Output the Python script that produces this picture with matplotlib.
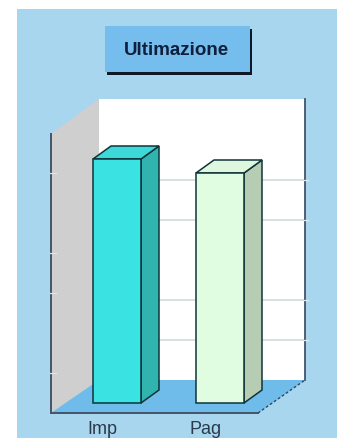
import matplotlib
matplotlib.use("Agg")
import matplotlib.pyplot as plt
from matplotlib.patches import Polygon, Rectangle

# Datos
categories = ["Imp", "Pag"]
values = [6.1, 5.75]
grid_levels = [1, 2, 4, 5]
left_ticks = [1, 3, 4, 6]
right_ticks = [1, 2, 4, 5]

W, H = 337, 439
BG = "#a8d6ef"
BTN = "#74bdec"
FLOOR = "#6fbbea"
SIDE_WALL = "#cfcfcf"
AXIS = "#44546a"
GRID = "#cdd9d6"
FRONTS = ["#3ae2e2", "#e1fde1"]
SIDES = ["#31b3b0", "#b6cdb4"]
TOPS = ["#3cd9d8", "#dff7df"]

# Escala del grafico, en pixeles
PX_X, PX_Y = 103.0, 40.0
X0, Y0 = 117.0, 403.0
BACK_Y = 23 / PX_Y
FRONT_Y = -10 / PX_Y
DX, DY = 18 / PX_X, 13 / PX_Y
WIDTH = 48 / PX_X
NUDGE = 1  # ajuste vertical frente a la referencia

plt.rcParams["font.family"] = ["Liberation Sans", "DejaVu Sans"]
fig = plt.figure(figsize=(W / 100, H / 100), dpi=100, facecolor="white")

# Capa de fondo en coordenadas de pixel
bg = fig.add_axes([0, 0, 1, 1])
bg.set_xlim(0, W)
bg.set_ylim(H, 0)
bg.axis("off")
bg.add_patch(Rectangle((17, 10), W - 17, H - 10, fc=BG, ec="none"))
bg.add_patch(Rectangle((107, 30), 145, 46, fc="#101828", ec="none"))
bg.add_patch(Rectangle((105, 27), 145, 46, fc=BTN, ec="none"))
bg.text(176.5, 50.5, "Ultimazione", ha="center", va="center", fontsize=13.5,
        fontweight="bold", color="#0f1f3d")

# Ejes del grafico: unidades de valor en y, indice de categoria en x
left, right, top, bottom = 45, 312, 90, 437
ax = fig.add_axes([left / W, 1 - (bottom + NUDGE) / H, (right - left) / W, (bottom - top) / H])
ax.set_xlim((left - X0) / PX_X, (right - X0) / PX_X)
ax.set_ylim((Y0 - bottom) / PX_Y, (Y0 - top) / PX_Y)
ax.axis("off")
ax.patch.set_alpha(0)

x_l = (51 - X0) / PX_X
x_r = (258 - X0) / PX_X
bx_l = (99 - X0) / PX_X
bx_r = (305 - X0) / PX_X
wall_top = (Y0 - 99) / PX_Y
side_top = (Y0 - 134) / PX_Y

ax.add_patch(Rectangle((bx_l, BACK_Y), bx_r - bx_l, wall_top - BACK_Y, fc="white", ec="none", zorder=1))
ax.add_patch(Polygon([(x_l, FRONT_Y), (x_l, side_top), (bx_l, wall_top), (bx_l, BACK_Y)],
                     fc=SIDE_WALL, ec="none", zorder=1))
ax.add_patch(Polygon([(x_l, FRONT_Y), (x_r, FRONT_Y), (bx_r, BACK_Y), (bx_l, BACK_Y)],
                     fc=FLOOR, ec="none", zorder=1))

for g in grid_levels:
    ax.plot([bx_l, bx_r], [g + BACK_Y] * 2, color=GRID, lw=1.1, zorder=2)
ax.plot([bx_r, bx_r], [BACK_Y, wall_top], color=AXIS, lw=1.3, zorder=3)
for t in right_ticks:
    ax.plot([bx_r - 0.01, bx_r + 0.03], [t + BACK_Y] * 2, color="#dfe9ee", lw=0.9, zorder=4)

ax.plot([x_l, x_l], [FRONT_Y, side_top], color=AXIS, lw=1.4, zorder=3)
ax.plot([x_l, x_r], [FRONT_Y, FRONT_Y], color=AXIS, lw=1.4, zorder=3)
ax.plot([x_r, bx_r], [FRONT_Y, BACK_Y], color="#33475f", lw=1.0, ls=(0, (2, 1.5)), zorder=3)
for t in left_ticks:
    ax.plot([x_l - 0.01, x_l + 0.05], [t + FRONT_Y] * 2, color="#e4e4e4", lw=0.9, zorder=4)

# Barras: cara frontal con bar(), lados a partir de cada valor
xs = list(range(len(categories)))
ax.bar(xs, values, width=WIDTH, color=FRONTS, edgecolor="#10343a", linewidth=1.1, zorder=6)
for x, v, side, tp in zip(xs, values, SIDES, TOPS):
    x1 = x + WIDTH / 2
    x0 = x - WIDTH / 2
    ax.add_patch(Polygon([(x1, 0), (x1 + DX, DY), (x1 + DX, v + DY), (x1, v)],
                         fc=side, ec="#10343a", lw=1.1, zorder=5))
    ax.add_patch(Polygon([(x0, v), (x1, v), (x1 + DX, v + DY), (x0 + DX, v + DY)],
                         fc=tp, ec="#10343a", lw=1.1, zorder=5))

for x, name in zip(xs, categories):
    ax.text(x - 0.145, (Y0 - 429) / PX_Y, name, ha="center", va="center",
            fontsize=13, color="#2b3a4a")

fig.savefig("out.png", dpi=100, facecolor="white")
